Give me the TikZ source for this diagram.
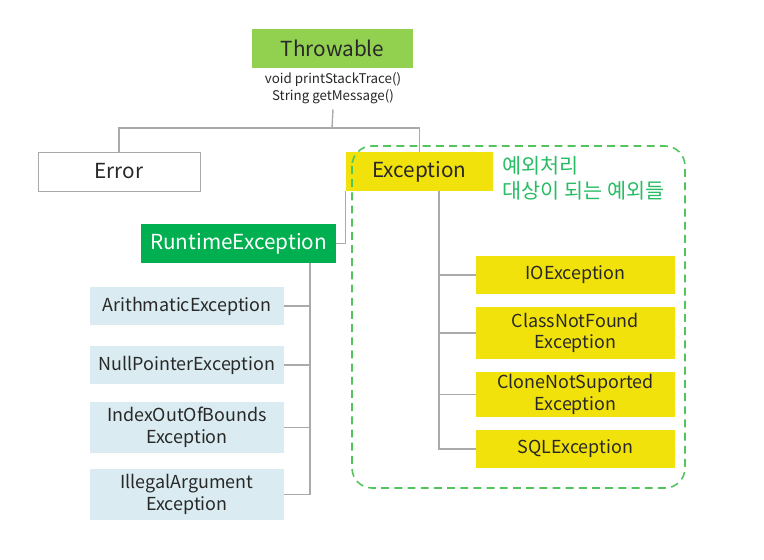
\documentclass[tikz,border=0pt]{standalone}
\usepackage{fontspec}
\setmainfont{Noto Sans CJK KR}
\definecolor{thgreen}{RGB}{146,208,80}
\definecolor{rtgreen}{RGB}{0,176,80}
\definecolor{excyellow}{RGB}{242,226,12}
\definecolor{rtblue}{RGB}{218,236,242}
\definecolor{notegreen}{RGB}{40,188,100}
\definecolor{linegray}{RGB}{170,170,170}
\definecolor{txtgray}{RGB}{40,40,40}
\usetikzlibrary{positioning}

\begin{document}
\begin{tikzpicture}[
  x=0.02cm, y=-0.02cm,
  every node/.style={font=\fontsize{10.2}{12.4}\selectfont, align=center,
                     inner sep=0pt, text=txtgray},
  toplevel/.style={font=\fontsize{11.8}{14}\selectfont, minimum height=0.78cm},
  link/.style={draw=linegray, line width=0.8pt},
]
\useasboundingbox (0,0) rectangle (764,560);

% === Top of the tree ===
\node[toplevel, fill=thgreen, minimum width=3.22cm]
      (throw) at (332.5,48.5) {Throwable};
\node[font=\fontsize{7.6}{9.8}\selectfont, inner sep=3pt]
      (meth) at (333,88) {void printStackTrace()\\String getMessage()};

\node[toplevel, draw=linegray, fill=white, minimum width=3.24cm]
      (error) at (119,171.5) {Error};
\node[toplevel, fill=excyellow, minimum width=2.94cm]
      (exc) at (419.5,171.5) {Exception};
\node[toplevel, fill=rtgreen, text=white, minimum width=3.9cm]
      (rte) at (238.5,243.5) {RuntimeException};

% === Unchecked (left, blue) ===
\node[fill=rtblue, minimum width=3.88cm, minimum height=0.76cm]
      (arith) at (187,306) {ArithmaticException};
\node[fill=rtblue, minimum width=3.88cm, minimum height=0.76cm]
      (npe) at (187,365) {NullPointerException};
\node[fill=rtblue, minimum width=3.88cm, minimum height=1.02cm]
      (ioob) at (187,427.5) {IndexOutOfBounds\\Exception};
\node[fill=rtblue, minimum width=3.88cm, minimum height=1.02cm]
      (iae) at (187,494.5) {IllegalArgument\\Exception};

% === Checked (right, yellow) ===
\node[fill=excyellow, minimum width=3.98cm, minimum height=0.76cm]
      (io) at (575.5,275) {IOException};
\node[fill=excyellow, minimum width=3.98cm, minimum height=1.04cm]
      (cnf) at (575.5,333) {ClassNotFound\\Exception};
\node[fill=excyellow, minimum width=3.98cm, minimum height=0.9cm]
      (cns) at (575.5,394.5) {CloneNotSuported\\Exception};
\node[fill=excyellow, minimum width=3.98cm, minimum height=0.76cm]
      (sql) at (575.5,449) {SQLException};

% === Connectors ===
\coordinate (split) at (332,128);
\draw[link] (meth.south) -- (split);
\draw[link] (error.north) |- (split) -| (exc.north);
\draw[link] (exc.south west) |- (rte.east);

\coordinate (rtrunk) at (310,263);
\draw[link] (rtrunk) |- (iae.east);
\foreach \n in {arith,npe,ioob}
  \draw[link] (\n.east) -- (\n.east -| rtrunk);

\coordinate (etrunk) at (439,191);
\draw[link] (etrunk) |- (sql.west);
\foreach \n in {io,cnf,cns}
  \draw[link] (\n.west) -- (\n.west -| etrunk);

% === Checked group ===
\draw[notegreen!60!thgreen, line width=0.9pt, dash pattern=on 4.5pt off 3pt,
      rounded corners=0.4cm] (352,146) rectangle (685,488);
\node[anchor=north west, align=left, text=notegreen,
      font=\fontsize{11.8}{14.4}\selectfont]
      (note) at (502,156) {예외처리\\대상이 되는 예외들};

\end{tikzpicture}
\end{document}
